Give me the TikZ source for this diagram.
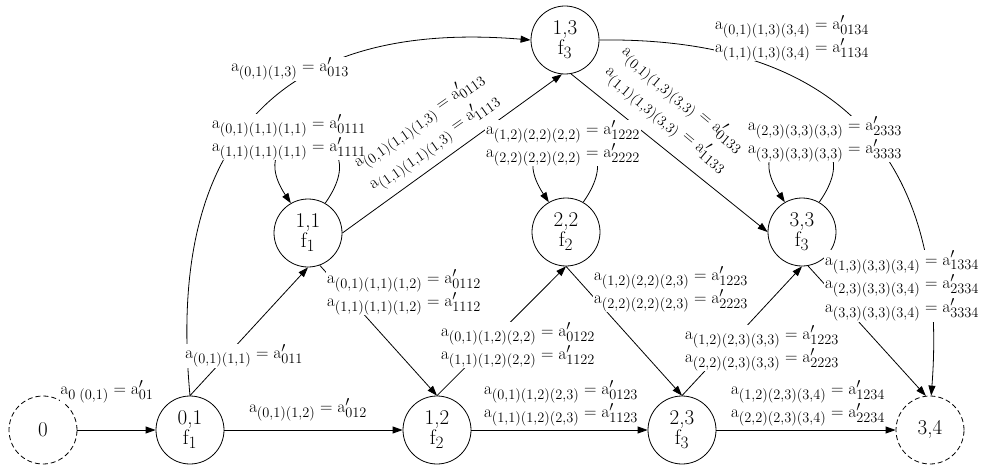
\documentclass[tikz,border=0pt]{standalone}
\usetikzlibrary{arrows.meta}
\renewcommand\defaultscriptratio{.76}
\newcommand\lbltxt[2]{$\mathrm{a}_{#1}=\mathrm{a}'_{#2}$}
\begin{document}
\begin{tikzpicture}[x=1pt,y=-1pt,
  st/.style={circle,draw,line width=0.8pt,minimum size=68pt,inner sep=0pt,align=center,font=\fontsize{21}{20}\selectfont},
  term/.style={st,dash pattern=on 5pt off 3pt},
  edge/.style={line width=0.8pt,-{Triangle[length=10pt,width=7pt]}},
  lbl/.style={fill=white,inner sep=0.5pt,align=center,font=\fontsize{19}{23}\selectfont},
  lblrot/.style={inner sep=0.5pt,align=center,font=\fontsize{19}{26}\selectfont},
  lblthree/.style={lbl,font=\fontsize{19}{20}\selectfont}]
\useasboundingbox (0,0) rectangle (982,468);
% states
\node[term] (n0)  at (43,430)  {0};
\node[st]   (n01) at (190,430) {0,1\\f$_1$};
\node[st]   (n12) at (437,430) {1,2\\f$_2$};
\node[st]   (n23) at (682,430) {2,3\\f$_3$};
\node[term] (n34) at (930,430) {3,4};
\node[st]   (n11) at (308,233) {1,1\\f$_1$};
\node[st]   (n22) at (566,232) {2,2\\f$_2$};
\node[st]   (n33) at (802,232) {3,3\\f$_3$};
\node[st]   (n13) at (565,40)  {1,3\\f$_3$};
% transitions
\draw[edge] (n0) -- (n01);
\draw[edge] (n01) -- (n12);
\draw[edge] (n12) -- (n23);
\draw[edge] (n23) -- (n34);
\draw[edge] (n01.north) -- (n11.south);
\draw[edge] (n01.north) .. controls (165,130) and (290,20) .. (n13.west);
\draw[edge] (n11.-70) -- (n12.north);
\draw[edge] (n11.east) -- (n13.-95);
\draw[edge] (n12.north) -- (n22.south);
\draw[edge] (n22.south) -- (n23.north);
\draw[edge] (n23.north) -- (n33.south);
\draw[edge] (n13.-80) -- (n33.west);
\draw[edge] (n33.-80) -- (n34.97);
\draw[edge] (n13.east) .. controls (830,37) and (950,150) .. (n34.88);
\draw[edge] (n11.60) .. controls +(60,-85) and +(-56,-85) .. (n11.120);
\draw[edge] (n22.60) .. controls +(60,-85) and +(-56,-85) .. (n22.120);
\draw[edge] (n33.60) .. controls +(60,-85) and +(-56,-85) .. (n33.120);
% labels
\node[lbl] (l1) at (107,392) {$\mathrm{a}_{0\;(0,1)}=\mathrm{a}'_{01}$};
\node[lbl] (l2) at (244,356) {\lbltxt{(0,1)(1,1)}{011}};
\node[lbl] (l3) at (290,69) {\lbltxt{(0,1)(1,3)}{013}};
\node[lbl] (l4) at (308,410) {\lbltxt{(0,1)(1,2)}{012}};
\node[lbl] (l5) at (289,137) {\lbltxt{(0,1)(1,1)(1,1)}{0111}\\\lbltxt{(1,1)(1,1)(1,1)}{1111}};
\node[lbl] (l6) at (404,292) {\lbltxt{(0,1)(1,1)(1,2)}{0112}\\\lbltxt{(1,1)(1,1)(1,2)}{1112}};
\node[lblrot,rotate=35] (l7) at (427,132) {\lbltxt{(0,1)(1,1)(1,3)}{0113}\\\lbltxt{(1,1)(1,1)(1,3)}{1113}};
\node[lbl] (l8) at (518,345) {\lbltxt{(0,1)(1,2)(2,2)}{0122}\\\lbltxt{(1,1)(1,2)(2,2)}{1122}};
\node[lbl] (l9) at (561,403) {\lbltxt{(0,1)(1,2)(2,3)}{0123}\\\lbltxt{(1,1)(1,2)(2,3)}{1123}};
\node[lbl] (l10) at (563,143) {\lbltxt{(1,2)(2,2)(2,2)}{1222}\\\lbltxt{(2,2)(2,2)(2,2)}{2222}};
\node[lbl] (l11) at (792,38) {\lbltxt{(0,1)(1,3)(3,4)}{0134}\\\lbltxt{(1,1)(1,3)(3,4)}{1134}};
\node[lblrot,rotate=-40] (l12) at (674,110) {\lbltxt{(0,1)(1,3)(3,3)}{0133}\\\lbltxt{(1,1)(1,3)(3,3)}{1133}};
\node[lbl] (l13) at (825,139) {\lbltxt{(2,3)(3,3)(3,3)}{2333}\\\lbltxt{(3,3)(3,3)(3,3)}{3333}};
\node[lbl] (l14) at (671,289) {\lbltxt{(1,2)(2,2)(2,3)}{1223}\\\lbltxt{(2,2)(2,2)(2,3)}{2223}};
\node[lbl] (l15) at (762,348) {\lbltxt{(1,2)(2,3)(3,3)}{1223}\\\lbltxt{(2,2)(2,3)(3,3)}{2223}};
\node[lbl] (l16) at (808,403) {\lbltxt{(1,2)(2,3)(3,4)}{1234}\\\lbltxt{(2,2)(2,3)(3,4)}{2234}};
\node[lblthree] (l17) at (902,286) {\lbltxt{(1,3)(3,3)(3,4)}{1334}\\\lbltxt{(2,3)(3,3)(3,4)}{2334}\\\lbltxt{(3,3)(3,3)(3,4)}{3334}};
\end{tikzpicture}
\end{document}
